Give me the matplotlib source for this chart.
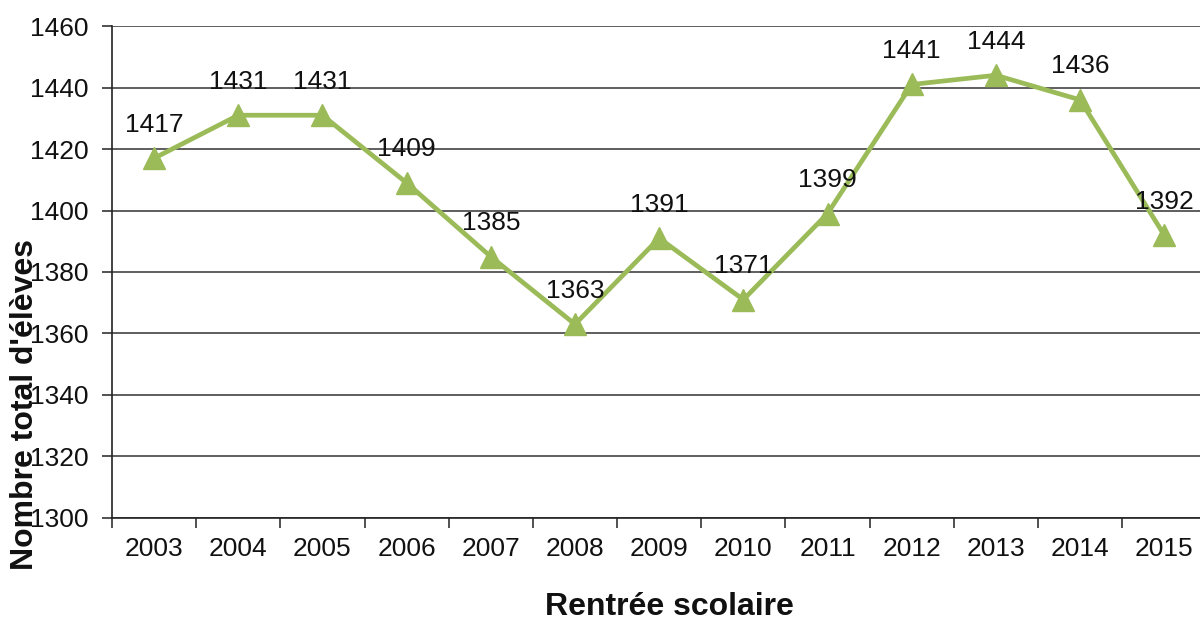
import matplotlib
matplotlib.use("Agg")
import matplotlib.pyplot as plt

# Nombre total d'élèves par rentrée scolaire
annees = ["2003", "2004", "2005", "2006", "2007", "2008", "2009",
          "2010", "2011", "2012", "2013", "2014", "2015"]
eleves = [1417, 1431, 1431, 1409, 1385, 1363, 1391,
          1371, 1399, 1441, 1444, 1436, 1392]
yticks = [1300, 1320, 1340, 1360, 1380, 1400, 1420, 1440, 1460]

plt.rcParams['font.family'] = ['Liberation Sans', 'DejaVu Sans']

fig = plt.figure(figsize=(12, 6.21), dpi=100)
ax = fig.add_axes([0.0933, 0.166, 0.912, 0.792])

x = list(range(len(annees)))
vert = '#9BBB59'
ax.plot(x, eleves, color=vert, linewidth=3.4, marker='^', markersize=16,
        markerfacecolor=vert, markeredgecolor=vert, zorder=3, clip_on=False)

for xi, v in zip(x, eleves):
    ax.annotate(str(v), (xi, v), xytext=(0, 19), textcoords='offset points',
                ha='center', va='baseline', fontsize=19, color='#111111')

ax.set_xlim(-0.5, len(annees) - 0.5)
ax.set_ylim(1300, 1460)
ax.set_yticks(yticks)
ax.set_yticklabels([str(t) for t in yticks], fontsize=19, color='#111111')
ax.set_xticks(x)
ax.set_xticklabels(annees, fontsize=19, color='#111111')
ax.set_xticks([i - 0.5 for i in range(len(annees) + 1)], minor=True)
ax.tick_params(axis='x', which='major', length=0, pad=14)
ax.tick_params(axis='x', which='minor', length=7, width=1.2, color='#333333')
ax.tick_params(axis='y', length=7, width=1.2, color='#333333', pad=10)

ax.grid(axis='y', color='#333333', linewidth=1.1)
ax.set_axisbelow(True)
for s in ['top', 'right']:
    ax.spines[s].set_visible(False)
for s in ['left', 'bottom']:
    ax.spines[s].set_color('#222222')
    ax.spines[s].set_linewidth(1.2)

fig.text(0.558, 0.0225, "Rentrée scolaire", ha='center', va='center',
         fontsize=23, fontweight='bold', color='#111111')
fig.text(0.021, 0.348, "Nombre total d'élèves", ha='center', va='center',
         rotation=90, fontsize=23, fontweight='bold', color='#111111')

fig.savefig("out.png", dpi=100)
